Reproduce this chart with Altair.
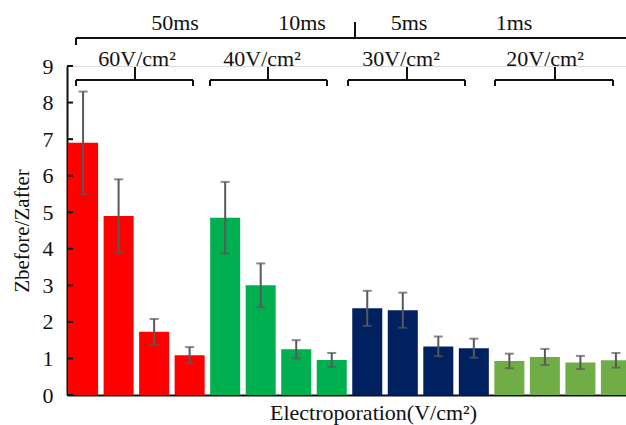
import altair as alt
import pandas as pd

# ---------------- data ----------------
bar_ids = [f"b{i}" for i in range(1, 17)]
group_names = ["60V/cm²", "40V/cm²", "30V/cm²", "20V/cm²"]
group_colors = ["#FF0000", "#00B050", "#002060", "#70AD47"]
groups = [g for g in group_names for _ in range(4)]
means = [6.90, 4.90, 1.73, 1.09,
         4.85, 3.00, 1.25, 0.96,
         2.37, 2.32, 1.33, 1.28,
         0.93, 1.04, 0.89, 0.95]
errs = [1.40, 1.00, 0.35, 0.22,
        0.98, 0.60, 0.25, 0.19,
        0.48, 0.48, 0.27, 0.26,
        0.20, 0.22, 0.18, 0.20]
durations = ["50ms", "10ms", "5ms", "1ms"]
y_tick_values = list(range(10))

df = pd.DataFrame({"id": bar_ids, "group": groups, "mean": means, "err": errs})
df["lo"] = df["mean"] - df["err"]
df["hi"] = df["mean"] + df["err"]
ticks_df = pd.DataFrame({"v": y_tick_values})

FONT = "Liberation Serif, Times New Roman, serif"
INK = "#111111"

x_scale = alt.Scale(domain=bar_ids, range=[0, 565], paddingInner=0.155, paddingOuter=0.03)
y_scale = alt.Scale(domain=[0, 9], nice=False)

x_enc = alt.X("id:N", scale=x_scale,
              axis=alt.Axis(labels=False, ticks=False, tickSize=0, domain=True,
                            domainColor=INK, domainWidth=2,
                            title="Electroporation(V/cm²)", titleFont=FONT,
                            titleFontSize=22, titleFontWeight="normal", titleColor=INK,
                            titleX=306, titleY=24, titleAlign="center",
                            titleBaseline="alphabetic"))

bars = alt.Chart(df).mark_bar(clip=False).encode(
    x=x_enc,
    y=alt.Y("mean:Q", scale=y_scale,
            axis=alt.Axis(values=y_tick_values, ticks=False, tickSize=0, grid=False,
                          labelOverlap=False, labelFlush=False,
                          domainColor=INK, domainWidth=2,
                          labelFont=FONT, labelFontSize=22, labelColor=INK,
                          labelPadding=14,
                          title="Zbefore/Zafter", titleFont=FONT, titleFontSize=21,
                          titleFontWeight="normal", titleColor=INK,
                          titleX=-39, titleY=164.5, titleAlign="center",
                          titleBaseline="alphabetic", titleAngle=270)),
    color=alt.Color("group:N", scale=alt.Scale(domain=group_names, range=group_colors),
                    legend=None),
)

x_plain = alt.X("id:N", scale=x_scale, axis=None)

err_rule = alt.Chart(df).mark_rule(color="#595959", strokeWidth=2).encode(
    x=x_plain,
    y=alt.Y("lo:Q", scale=y_scale, axis=None),
    y2="hi:Q",
)
cap_lo = alt.Chart(df).mark_tick(color="#595959", thickness=2, size=9).encode(
    x=x_plain,
    y=alt.Y("lo:Q", scale=y_scale, axis=None),
)
cap_hi = alt.Chart(df).mark_tick(color="#595959", thickness=2, size=9).encode(
    x=x_plain,
    y=alt.Y("hi:Q", scale=y_scale, axis=None),
)

# inward y-axis ticks
y_ticks = alt.Chart(ticks_df).mark_rule(color=INK, strokeWidth=2).encode(
    y=alt.Y("v:Q", scale=y_scale, axis=None),
    x=alt.value(0),
    x2=alt.value(6),
)

one = alt.Data(values=[{}])


def seg(x1, x2, y1, y2):
    return alt.Chart(one).mark_rule(color=INK, strokeWidth=2).encode(
        x=alt.value(x1), x2=alt.value(x2), y=alt.value(y1), y2=alt.value(y2))


def label(txt, x, y, size):
    return alt.Chart(one).mark_text(text=txt, font=FONT, fontSize=size, color=INK,
                                    fontWeight="normal",
                                    align="center", baseline="alphabetic").encode(
        x=alt.value(x), y=alt.value(y))


annotations = []
# top (duration) bracket
annotations += [seg(9, 565, -28, -28), seg(9, 9, -28, -21), seg(288, 288, -44, -28)]
for txt, xc in zip(durations, [108, 235, 342, 447]):
    annotations.append(label(txt, xc, -36, 22))

# group brackets
for (xa, xb, xm) in [(9, 126, 68), (143, 260, 201), (281, 398, 340), (428, 546, 488)]:
    annotations += [seg(xa, xb, 14, 14), seg(xa, xa, 14, 20), seg(xb, xb, 14, 20),
                    seg(xm, xm, 1, 14)]
for txt, xc in zip(group_names, [70, 195, 334, 478]):
    annotations.append(label(txt, xc, 0, 22))

chart = alt.layer(bars, err_rule, cap_lo, cap_hi, y_ticks, *annotations).resolve_axis(
    x="independent", y="independent"
).properties(
    width=559, height=329,
    padding={"left": 67, "top": 66, "right": 0, "bottom": 30},
    autosize=alt.AutoSizeParams(type="none"),
).configure_view(stroke=None).configure(background="white")

chart.save("out.html", embed_options={"renderer": "svg", "actions": False})
